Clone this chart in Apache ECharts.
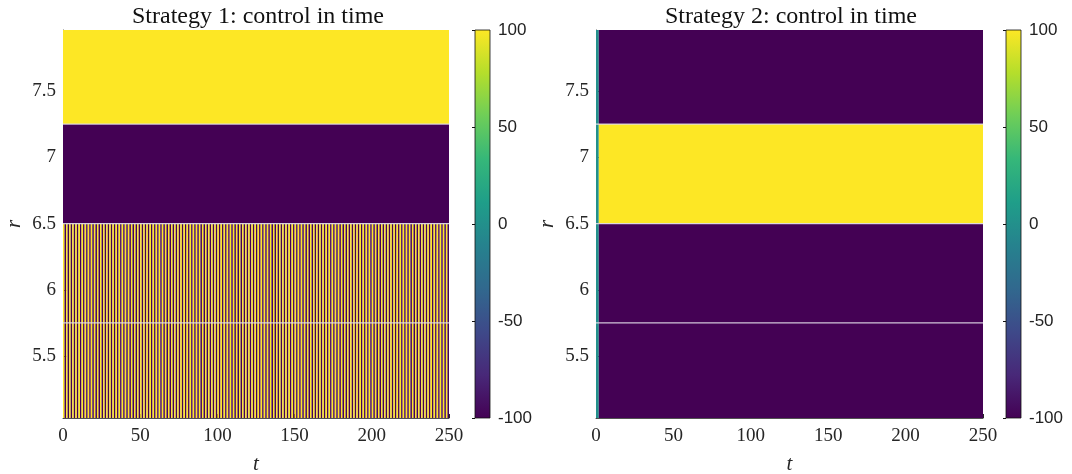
<!DOCTYPE html>
<html>
<head>
<meta charset="utf-8">
<script src="https://cdn.jsdelivr.net/npm/echarts@6/dist/echarts.min.js"></script>
<style>html,body{margin:0;padding:0;background:#fff}#c{width:1072px;height:474px}</style>
</head>
<body>
<div id="c"></div>
<script>
// ---- data ----
var titles = ['Strategy 1: control in time', 'Strategy 2: control in time'];
var rEdges = [5.033, 5.75, 6.5, 7.25, 7.96];          // band edges in r
var tRange = [0, 250];
var xTicks = [0, 50, 100, 150, 200, 250];
var cbTicks = [-100, -50, 0, 50, 100];
// strategy 1: constant bands (row index -> value), switching rows use switchPattern (one cell per unit t)
var s1Constant = { 2: -100, 3: 100 };
var s1SwitchRows = [0, 1];
var switchPattern = [
 100,-100,100,-100,100,-100,100,-100,100,-100,100,-100,100,-100,100,-100,100,-100,100,-100,100,-100,100,-100,100,
 -100,100,-100,100,-100,100,-100,100,-100,100,-100,100,-100,100,-100,100,-100,100,-100,100,-100,100,-100,100,-100,
 100,-100,100,-100,100,-100,100,-100,100,-100,100,-100,100,-100,100,-100,100,-100,100,-100,100,-100,100,-100,100,
 -100,100,-100,100,-100,100,-100,100,-100,100,-100,100,-100,100,-100,100,-100,100,-100,100,-100,100,-100,100,-100,
 100,-100,100,-100,100,-100,100,-100,100,-100,100,-100,100,-100,100,-100,100,-100,100,-100,100,-100,100,-100,100,
 -100,100,-100,100,-100,100,-100,100,-100,100,-100,100,-100,100,-100,100,-100,100,-100,100,-100,100,-100,100,-100,
 100,-100,100,-100,100,-100,100,-100,100,-100,100,-100,100,-100,100,-100,100,-100,100,-100,100,-100,100,-100,100,
 -100,100,-100,100,-100,100,-100,100,-100,100,-100,100,-100,100,-100,100,-100,100,-100,100,-100,100,-100,100,-100,
 100,-100,100,-100,100,-100,100,-100,100,-100,100,-100,100,-100,100,-100,100,-100,100,-100,100,-100,100,-100,100,
 -100,100,-100,100,-100,100,-100,100,-100,100,-100,100,-100,100,-100,100,-100,100,-100,100,-100,100,-100,100,-100
];
// strategy 2: time segments and per-row values
var s2TimeEdges = [0, 1.8, 250];
var s2RowValues = [[0, -100], [0, -100], [0, 100], [0, -100]];

// viridis colour stops
var viridis = ['#440154','#482878','#3e4989','#31688e','#26828e','#1f9e89','#35b779','#6ece58','#b5de2b','#fde725'];
function hex2rgb(h){return [parseInt(h.substr(1,2),16),parseInt(h.substr(3,2),16),parseInt(h.substr(5,2),16)];}
function colorOf(v){
  var f = (v + 100) / 200; f = Math.max(0, Math.min(1, f));
  var p = f * (viridis.length - 1), i = Math.min(Math.floor(p), viridis.length - 2), w = p - i;
  var a = hex2rgb(viridis[i]), b = hex2rgb(viridis[i + 1]);
  return 'rgb(' + [0,1,2].map(function(k){return Math.round(a[k] + (b[k]-a[k])*w);}).join(',') + ')';
}

// build cells [t0, t1, r0, r1, value]
var cells1 = [];
for (var row = 0; row < 4; row++) {
  if (s1SwitchRows.indexOf(row) >= 0) {
    for (var i = 0; i < switchPattern.length; i++) cells1.push([i, i + 1, rEdges[row], rEdges[row + 1], switchPattern[i]]);
  } else {
    cells1.push([tRange[0], tRange[1], rEdges[row], rEdges[row + 1], s1Constant[row]]);
  }
}
var cells2 = [];
for (var row2 = 0; row2 < 4; row2++) {
  for (var j = 0; j < s2TimeEdges.length - 1; j++) cells2.push([s2TimeEdges[j], s2TimeEdges[j + 1], rEdges[row2], rEdges[row2 + 1], s2RowValues[row2][j]]);
}

function renderCell(params, api) {
  var p0 = api.coord([api.value(0), api.value(3)]);
  var p1 = api.coord([api.value(1), api.value(2)]);
  return { type: 'rect', shape: { x: p0[0], y: p0[1], width: p1[0] - p0[0], height: p1[1] - p0[1] },
           style: { fill: colorOf(api.value(4)) } };
}
function renderBar(params, api) {
  var p0 = api.coord([0, 100]), p1 = api.coord([1, -100]);
  var stops = viridis.map(function(c, k){ return { offset: 1 - k / (viridis.length - 1), color: c }; });
  return { type: 'rect', shape: { x: p0[0], y: p0[1], width: p1[0] - p0[0], height: p1[1] - p0[1] },
           style: { fill: new echarts.graphic.LinearGradient(0, 0, 0, 1, stops), stroke: '#111', lineWidth: 0.8 } };
}

var boundaries = rEdges.slice(1, 4);
function boundaryLines(gridIdx) {
  return boundaries.map(function(r){
    return { type: 'line', xAxisIndex: gridIdx, yAxisIndex: gridIdx, data: [[tRange[0], r], [tRange[1], r]],
             symbol: 'none', silent: true, z: 5, lineStyle: { color: 'rgba(225,220,232,0.9)', width: 1.3 } };
  });
}

var serif = 'Liberation Serif';
var sans = 'Liberation Sans';
var gridBase = { outerBoundsMode: 'none', containLabel: false };
var grids = [
  Object.assign({ left: 63, top: 30, width: 386, height: 388 }, gridBase),
  Object.assign({ left: 596, top: 30, width: 387, height: 388 }, gridBase),
  Object.assign({ left: 475, top: 30, width: 15, height: 388 }, gridBase),
  Object.assign({ left: 1006, top: 30, width: 15, height: 388 }, gridBase)
];
function heatX(idx) {
  return { type: 'value', gridIndex: idx, min: tRange[0], max: tRange[1], interval: 50,
    name: 't', nameLocation: 'middle', nameGap: 36,
    nameTextStyle: { fontFamily: serif, fontStyle: 'italic', fontSize: 21, color: '#262626' },
    axisLine: { show: true, lineStyle: { color: '#262626', width: 0.8 } },
    axisTick: { show: true, inside: true, length: 4, lineStyle: { color: '#262626' } },
    axisLabel: { fontFamily: serif, fontSize: 19, color: '#262626', margin: 9,
      formatter: function(v){ return xTicks.indexOf(v) >= 0 ? String(v) : ''; } },
    splitLine: { show: false } };
}
function heatY(idx) {
  return { type: 'value', gridIndex: idx, min: rEdges[0], max: rEdges[rEdges.length - 1], splitNumber: 6,
    name: 'r', nameLocation: 'middle', nameGap: 38, nameRotate: 90,
    nameTextStyle: { fontFamily: serif, fontStyle: 'italic', fontSize: 21, color: '#262626' },
    axisLine: { show: true, lineStyle: { color: '#262626', width: 0.8 } },
    axisTick: { show: true, inside: true, length: 4, lineStyle: { color: '#262626' } },
    axisLabel: { fontFamily: serif, fontSize: 19, color: '#262626', margin: 7, showMinLabel: false, showMaxLabel: false },
    splitLine: { show: false } };
}
function cbX(idx) { return { type: 'value', gridIndex: idx, min: 0, max: 1, show: false }; }
function cbY(idx) {
  return { type: 'value', gridIndex: idx, min: cbTicks[0], max: cbTicks[cbTicks.length - 1], interval: 50, position: 'right',
    axisLine: { show: false },
    axisTick: { show: true, inside: true, length: 3, lineStyle: { color: '#111' } },
    axisLabel: { fontFamily: sans, fontSize: 17, color: '#222', margin: 8 },
    splitLine: { show: false } };
}

var option = {
  animation: false,
  backgroundColor: '#ffffff',
  title: [
    { text: titles[0], left: 253, top: 0, textAlign: 'center', textStyle: { fontFamily: serif, fontWeight: 'normal', fontSize: 24, color: '#111' } },
    { text: titles[1], left: 786, top: 0, textAlign: 'center', textStyle: { fontFamily: serif, fontWeight: 'normal', fontSize: 24, color: '#111' } }
  ],
  grid: grids,
  xAxis: [heatX(0), heatX(1), cbX(2), cbX(3)],
  yAxis: [heatY(0), heatY(1), cbY(2), cbY(3)],
  series: [
    { type: 'custom', xAxisIndex: 0, yAxisIndex: 0, renderItem: renderCell, data: cells1, clip: true, silent: true },
    { type: 'custom', xAxisIndex: 1, yAxisIndex: 1, renderItem: renderCell, data: cells2, clip: true, silent: true },
    { type: 'custom', xAxisIndex: 2, yAxisIndex: 2, renderItem: renderBar, data: [[0]], silent: true },
    { type: 'custom', xAxisIndex: 3, yAxisIndex: 3, renderItem: renderBar, data: [[0]], silent: true }
  ].concat(boundaryLines(0)).concat(boundaryLines(1))
};
var chart = echarts.init(document.getElementById('c'), null, { renderer: 'canvas' });
chart.setOption(option);
</script>
</body>
</html>
